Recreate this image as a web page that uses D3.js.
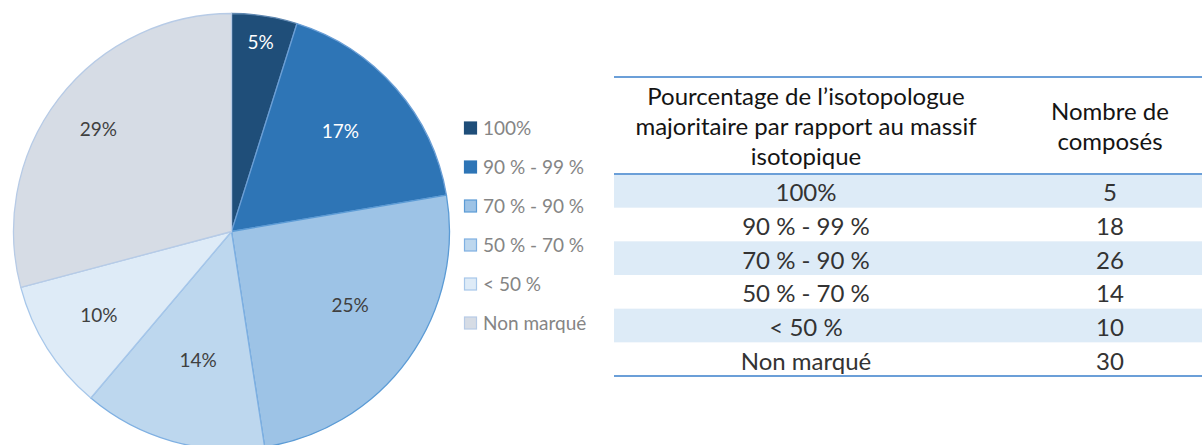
<!DOCTYPE html>
<html>
<head>
<meta charset="utf-8">
<script src="https://cdn.jsdelivr.net/npm/d3@7"></script>
<style>
  html, body { margin: 0; padding: 0; background: #ffffff; }
  svg { display: block; }
  text { font-family: Lato, "Open Sans", sans-serif; }
</style>
</head>
<body>
<svg id="chart" width="1202" height="445"></svg>
<script>
// Categories of the major isotopologue share, and the number of compounds in each
const categories = ["100%", "90 % - 99 %", "70 % - 90 %", "50 % - 70 %", "< 50 %", "Non marqué"];
const counts = [5, 18, 26, 14, 10, 30];

// Table header (two columns, wrapped lines)
const headerCol1 = ["Pourcentage de l\u2019isotopologue", "majoritaire par rapport au massif", "isotopique"];
const headerCol2 = ["Nombre de", "composés"];

// Styling per category
const fills   = ["#1f4e79", "#2e75b6", "#9dc3e6", "#bdd7ee", "#deebf7", "#d6dce5"];
const strokes = ["#5f87b0", "#6b9fd6", "#5b9bd5", "#7fb0e2", "#a7c7ea", "#b7cbe6"];
const labelInk = ["#ffffff", "#ffffff", "#404040", "#404040", "#404040", "#404040"];
// radial placement of each percentage label, as a fraction of the radius,
// plus a small angular nudge (radians)
const labelRadius = [0.88, 0.68, 0.64, 0.61, 0.72, 0.77];
const labelNudge  = [0, -0.03, -0.07, -0.02, 0, 0];

const svg = d3.select("#chart");

// ---------- Pie ----------
const cx = 231.5, cy = 231.5, R = 218;
const total = d3.sum(counts);
const pct = d3.format(".0%");

const pie = d3.pie().sort(null).value(d => d.v);
const slices = pie(categories.map((c, i) => ({ c, v: counts[i], i })));
const arc = d3.arc().innerRadius(0).outerRadius(R);

const g = svg.append("g").attr("transform", `translate(${cx},${cy})`);
g.selectAll("path.slice")
  .data(slices)
  .join("path")
  .attr("class", "slice")
  .attr("d", arc)
  .attr("fill", d => fills[d.data.i])
  .attr("stroke", d => strokes[d.data.i])
  .attr("stroke-width", 1.3)
  .attr("stroke-linejoin", "round");

g.selectAll("text.pct")
  .data(slices)
  .join("text")
  .attr("class", "pct")
  .attr("transform", d => {
    const r = R * labelRadius[d.data.i];
    const a = (d.startAngle + d.endAngle) / 2 + labelNudge[d.data.i];
    return `translate(${r * Math.sin(a)},${-r * Math.cos(a)})`;
  })
  .attr("text-anchor", "middle")
  .attr("dy", "0.36em")
  .attr("font-size", 19)
  .attr("fill", d => labelInk[d.data.i])
  .text(d => pct(d.data.v / total));

// ---------- Legend ----------
const legendY = d3.scalePoint().domain(categories).range([128, 323]);
const lg = svg.append("g").attr("transform", "translate(464,0)");
const items = lg.selectAll("g.item")
  .data(categories)
  .join("g")
  .attr("class", "item")
  .attr("transform", d => `translate(0,${legendY(d)})`);
items.append("rect")
  .attr("x", 0.5).attr("y", -6)
  .attr("width", 12).attr("height", 12)
  .attr("fill", (d, i) => fills[i])
  .attr("stroke", (d, i) => i < 2 ? fills[i] : strokes[i])
  .attr("stroke-width", 1.2);
items.append("text")
  .attr("x", 19)
  .attr("dy", "0.36em")
  .attr("font-size", 19)
  .attr("fill", "#858585")
  .text(d => d);

// ---------- Table ----------
const tLeft = 614, tRight = 1202;
const col1X = 806, col2X = 1110;
const headTop = 77, headBottom = 174, tableBottom = 376;
const rowY = d3.scaleBand().domain(categories).range([headBottom, tableBottom]);
const tfs = 24;

const tg = svg.append("g");
// banded rows
tg.selectAll("rect.band")
  .data(categories.filter((d, i) => i % 2 === 0))
  .join("rect")
  .attr("class", "band")
  .attr("x", tLeft).attr("width", tRight - tLeft)
  .attr("y", d => rowY(d)).attr("height", rowY.bandwidth())
  .attr("fill", "#ddebf7");

// rule lines
[headTop, headBottom, tableBottom].forEach(y => {
  tg.append("line")
    .attr("x1", tLeft).attr("x2", tRight)
    .attr("y1", y).attr("y2", y)
    .attr("stroke", "#6b9fd8")
    .attr("stroke-width", 2.2);
});

// header text
const headMid = (headTop + headBottom) / 2;
const lineH = 30;
tg.append("g").selectAll("text")
  .data(headerCol1)
  .join("text")
  .attr("x", col1X)
  .attr("y", (d, i) => headMid + (i - (headerCol1.length - 1) / 2) * lineH + 1)
  .attr("dy", "0.36em")
  .attr("text-anchor", "middle")
  .attr("font-size", tfs)
  .attr("fill", "#141414")
  .text(d => d);
tg.append("g").selectAll("text")
  .data(headerCol2)
  .join("text")
  .attr("x", col2X)
  .attr("y", (d, i) => headMid + (i - (headerCol2.length - 1) / 2) * lineH + 1)
  .attr("dy", "0.36em")
  .attr("text-anchor", "middle")
  .attr("font-size", tfs)
  .attr("fill", "#141414")
  .text(d => d);

// body rows
const rows = tg.selectAll("g.row")
  .data(categories.map((c, i) => ({ c, n: counts[i] })))
  .join("g")
  .attr("class", "row")
  .attr("transform", d => `translate(0,${rowY(d.c) + rowY.bandwidth() / 2 + 2})`);
rows.append("text")
  .attr("x", col1X).attr("dy", "0.36em")
  .attr("text-anchor", "middle")
  .attr("font-size", tfs).attr("fill", "#333333")
  .text(d => d.c);
rows.append("text")
  .attr("x", col2X).attr("dy", "0.36em")
  .attr("text-anchor", "middle")
  .attr("font-size", tfs).attr("fill", "#333333")
  .text(d => d.n);
</script>
</body>
</html>
